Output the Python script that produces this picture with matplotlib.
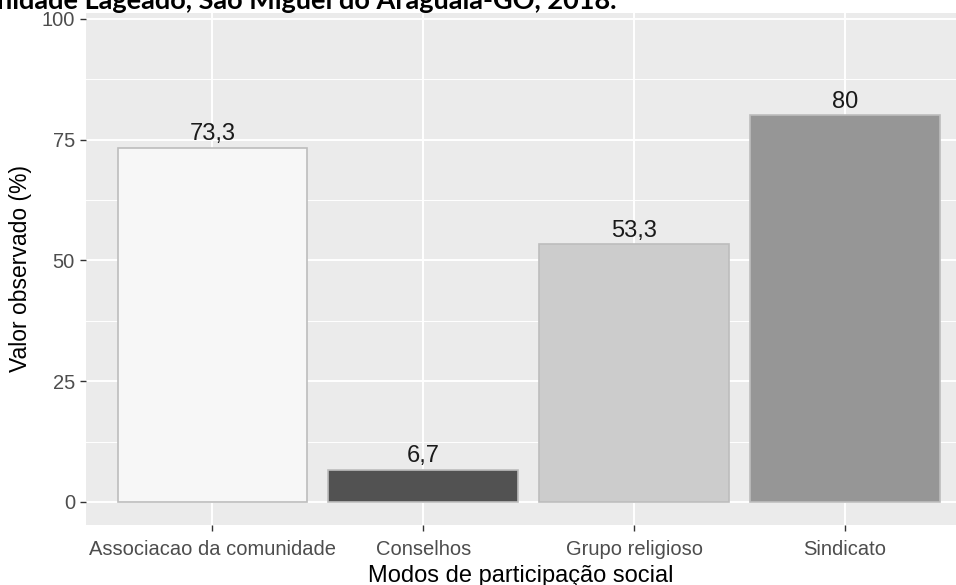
import matplotlib.pyplot as plt
from matplotlib.ticker import MultipleLocator

# dados
categorias = ['Associacao da comunidade', 'Conselhos', 'Grupo religioso', 'Sindicato']
valores = [73.3, 6.7, 53.3, 80]
rotulos = ['73,3', '6,7', '53,3', '80']
cores = ['#F7F7F7', '#525252', '#CCCCCC', '#969696']

plt.rcParams['font.family'] = ['Liberation Sans', 'DejaVu Sans']

fig = plt.figure(figsize=(9.56, 5.85), dpi=100)
ax = fig.add_axes([86 / 956, 1 - 525 / 585, 1 - 86 / 956, (525 - 13) / 585])

x = list(range(1, len(categorias) + 1))
ax.set_facecolor('#EBEBEB')
ax.bar(x, valores, width=0.9, color=cores, edgecolor='#BDBDBD', linewidth=1.2, zorder=3)
for xi, v, r in zip(x, valores, rotulos):
    ax.text(xi, v + 0.6, r, ha='center', va='bottom', fontsize=17, color='#1A1A1A', zorder=4)

ax.set_xlim(0.4, 4.527)
ax.set_ylim(-4.76, 101.2)
ax.set_xticks(x)
ax.set_xticklabels(categorias)
ax.set_yticks([0, 25, 50, 75, 100])
ax.yaxis.set_minor_locator(MultipleLocator(12.5))
ax.grid(which='major', color='white', linewidth=1.4, zorder=0)
ax.grid(which='minor', axis='y', color='white', linewidth=0.7, zorder=0)
ax.set_axisbelow(True)
for s in ax.spines.values():
    s.set_visible(False)
ax.tick_params(axis='both', which='major', length=4, width=1, color='#333333',
               labelcolor='#4D4D4D', labelsize=14.5)
ax.tick_params(axis='x', which='major', pad=7)
ax.tick_params(axis='y', which='major', pad=4)
ax.tick_params(axis='y', which='minor', length=0)
ax.set_xlabel('Modos de participação social', fontsize=17, color='black', labelpad=4)
ax.set_ylabel('Valor observado (%)', fontsize=16.5, color='black', labelpad=7)

fig.text(-3 / 956, 1 - 9 / 585, 'nidade Lageado, São Miguel do Araguaia-GO, 2018.',
         fontsize=19.5, fontweight='bold', family=['Lato', 'DejaVu Sans'],
         ha='left', va='baseline')

fig.savefig('out.png', dpi=100)
